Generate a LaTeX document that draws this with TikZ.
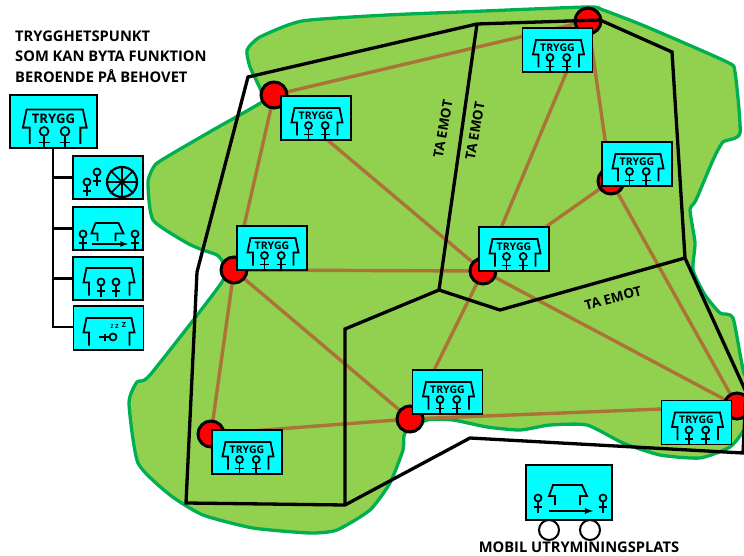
\documentclass[tikz,border=0pt]{standalone}
\usepackage{fontspec}
\setmainfont{Open Sans}
\newfontfamily\semifont{Open Sans Bold}
\usetikzlibrary{calc}
\definecolor{landgreen}{HTML}{92D050}
\definecolor{landedge}{HTML}{00B050}
\definecolor{roadbrown}{HTML}{AC7339}
\definecolor{boxcyan}{HTML}{00FFFF}
\def\drawroad{\draw[color=roadbrown, line width=3.4pt]}
\def\drawzone{\draw[color=black, line width=3.3pt, line join=miter]}
\def\pointnode{\node[circle,draw=black,fill=red,line width=3pt,minimum size=26pt,inner sep=0pt]}
\def\boxnode{\node[rectangle,draw=black,fill=boxcyan,line width=1.9pt,inner sep=0pt,outer sep=0pt]}
\tikzset{
  person/.pic={
    \draw[line width=1.7pt] (0,0) circle (3.5);
    \draw[line width=1.7pt] (0,3.5) -- (0,14.5);
    \draw[line width=1.7pt] (-4.3,9) -- (4.3,9);
  },
  shelter/.pic={
    \draw[line width=1.8pt] (-19,17.5) -- (-19,4.5) -- (-24.5,4.5) -- (-21.5,-10) -- (23.5,-10) -- (26.5,4.5) -- (21.5,4.5) -- (21.5,17.5);
  },
  smallroof/.pic={
    \draw[line width=1.8pt] (-10,10) -- (-10,2.5) -- (-16,2.5) -- (-12,-8) -- (11,-8) -- (16,2.5) -- (8,2.5) -- (8,10);
  },
  trygg/.pic={
    \pic at (0,0) {shelter};
    \node[font=\semifont\fontsize{10.5}{10.5}\selectfont,inner sep=0pt,transform shape] (word) at (0,-2.5) {TRYGG};
    \pic at (-7.5,7.5) {person};
    \pic at (9.2,7.5) {person};
  }
}
\begin{document}
\begin{tikzpicture}[x=1pt,y=-1pt]
\useasboundingbox (0,0) rectangle (744,556);
% land
\draw[color=landedge, fill=landgreen, line width=3.3pt, line join=round] plot[smooth cycle, tension=0.35] coordinates {
  (247,50) (260,37) (302,21) (387,15) (460,12) (587,7) (603,10) (647,27) (727,62) (735,72) (740,133)
  (723,142) (713,160) (696,200) (690,210) (695,243) (693,270) (705,295) (720,313) (733,318) (744,373)
  (760,400) (744,430) (730,447) (700,458) (660,455) (623,443) (587,425) (550,425) (520,430) (487,427)
  (453,420) (427,420) (405,433) (403,450) (390,483) (370,510) (337,530) (310,533) (253,528) (203,515)
  (170,495) (138,463) (129,403) (137,382) (150,375) (222,282) (223,263) (217,255) (203,250) (187,243)
  (153,220) (148,182) (155,165) (170,155) (213,130) (262,102) (262,95) (260,88) (250,67)};
% sites
\coordinate (a) at (274,95);
\coordinate (b) at (234,270);
\coordinate (c) at (211,434);
\coordinate (d) at (410,419);
\coordinate (e) at (483,271);
\coordinate (f) at (611,181);
\coordinate (g) at (588,21);
\coordinate (h) at (737,406);
\foreach \from/\to in {a/b,a/e,a/g,b/e,b/c,b/d,c/d,d/e,d/h,e/g,e/f,e/h,f/g,f/h}
  \drawroad (\from) -- (\to);
\foreach \site in {a,b,c,d,e,f,g,h}
  \pointnode (p\site) at (\site) {};
% zones
\coordinate (z1) at (248,77);
\coordinate (z2) at (477,24);
\coordinate (z3) at (600,20);
\coordinate (z4) at (672,52);
\coordinate (z5) at (685,258);
\coordinate (z6) at (746,392);
\coordinate (z7) at (743,453);
\coordinate (z8) at (470,438);
\coordinate (z9) at (345,505);
\coordinate (z10) at (186,503);
\coordinate (z11) at (197,272);
\coordinate (z12) at (439,290);
\coordinate (z13) at (500,310);
\coordinate (z14) at (345,329);
\drawzone (z1) -- (z2) -- (z3) -- (z4) -- (z5) -- (z6) -- (z7) -- (z8) -- (z9) -- (z10) -- (z11) -- cycle;
\drawzone (z2) -- (z12) -- (z13) -- (z5);
\drawzone (z12) -- (z14) -- (z9);
\node[font=\semifont\fontsize{13.5}{13.5}\selectfont,rotate=80,inner sep=0pt] (zonea) at (443,129) {TA EMOT};
\node[font=\semifont\fontsize{13.5}{13.5}\selectfont,rotate=80,inner sep=0pt] (zoneb) at (475,131) {TA EMOT};
\node[font=\semifont\fontsize{13.5}{13.5}\selectfont,rotate=15,inner sep=0pt] (zonec) at (613,298) {TA EMOT};
% boxes on the map
\foreach \site/\x/\y in {a/316/118,b/272/248,c/247/452,d/447.5/392,e/514/249,f/637/164,g/557.5/50,h/696.5/422.5} {
  \boxnode[minimum width=70pt,minimum height=44pt] (box\site) at (\x,\y) {};
  \pic at (\x,\y) {trygg};
}
% legend
\node[font=\semifont\fontsize{14.7}{14.7}\selectfont,anchor=west,inner sep=0pt] (titlea) at (15,36) {TRYGGHETSPUNKT};
\node[font=\semifont\fontsize{14.7}{14.7}\selectfont,anchor=west,inner sep=0pt] (titleb) at (15,56) {SOM KAN BYTA FUNKTION};
\node[font=\semifont\fontsize{14.7}{14.7}\selectfont,anchor=west,inner sep=0pt] (titlec) at (15,76) {BEROENDE PÅ BEHOVET};
\boxnode[minimum width=87pt,minimum height=53pt,line width=2.2pt] (main) at (53.5,121.5) {};
\pic[scale=1.25,transform shape] at (53.5,122) {trygg};
\boxnode[minimum width=70pt,minimum height=43pt] (sub1) at (108,177.5) {};
\boxnode[minimum width=70pt,minimum height=43pt] (sub2) at (108,228.5) {};
\boxnode[minimum width=70pt,minimum height=43pt] (sub3) at (108,278.5) {};
\boxnode[minimum width=70pt,minimum height=44pt] (sub4) at (108.5,328) {};
\coordinate (trunk) at (53,327);
\draw[line width=2.9pt] (main.south -| trunk) -- (trunk) -- (trunk -| sub4.west);
\foreach \n in {1,2,3}
  \draw[line width=2.9pt] (trunk |- sub\n.west) -- (sub\n.west);
% wheelchair
\pic at (87,182) {person};
\pic at (97,172) {person};
\node[circle,draw=black,line width=2.2pt,minimum size=30pt,inner sep=0pt] (wheel) at (122,182) {};
\foreach \a in {0,45,90,135}
  \draw[line width=1.6pt] (wheel.\a) -- (wheel.\a+180);
% moving
\pic at (83,234) {person};
\pic at (135,234) {person};
\pic at (107.5,231) {smallroof};
\coordinate (movea) at (92,244);
\coordinate (moveb) at (128,244);
\draw[-latex,line width=1.6pt] (movea) -- (moveb);
% shelter only
\pic at (108,278) {shelter};
\pic at (101,282) {person};
\pic at (116,282) {person};
% sleeping
\pic at (108,328) {shelter};
\node[circle,draw=black,line width=1.7pt,minimum size=7pt,inner sep=0pt] (head) at (113,337) {};
\coordinate (feet) at (99,337);
\draw[line width=1.6pt] (feet) -- (head);
\draw[line width=1.6pt] (105,333.5) -- (105,340.5);
\node[font=\semifont\fontsize{5}{5}\selectfont,inner sep=0pt] (za) at (112,327) {Z};
\node[font=\semifont\fontsize{5.5}{5.5}\selectfont,inner sep=0pt] (zb) at (117,326.5) {Z};
\node[font=\semifont\fontsize{7}{7}\selectfont,inner sep=0pt] (zc) at (124,325) {Z};
% mobile site
\boxnode[minimum width=86pt,minimum height=55pt,line width=2.2pt] (mobile) at (569,492.5) {};
\pic at (538,498) {person};
\pic at (603,498) {person};
\draw[line width=1.8pt] (555,505) -- (555,496) -- (549,496) -- (553,485) -- (582,485) -- (587,496) -- (580,496) -- (580,505);
\coordinate (mobilea) at (549,511);
\coordinate (mobileb) at (593,511);
\draw[-latex,line width=1.8pt] (mobilea) -- (mobileb);
\node[circle,draw=black,line width=2pt,minimum size=20pt,inner sep=0pt] (wheela) at (549,530) {};
\node[circle,draw=black,line width=2pt,minimum size=20pt,inner sep=0pt] (wheelb) at (590,530) {};
\node[font=\semifont\fontsize{14.7}{14.7}\selectfont,inner sep=0pt] (mobiletext) at (579,547) {MOBIL UTRYMININGSPLATS};
\end{tikzpicture}
\end{document}
